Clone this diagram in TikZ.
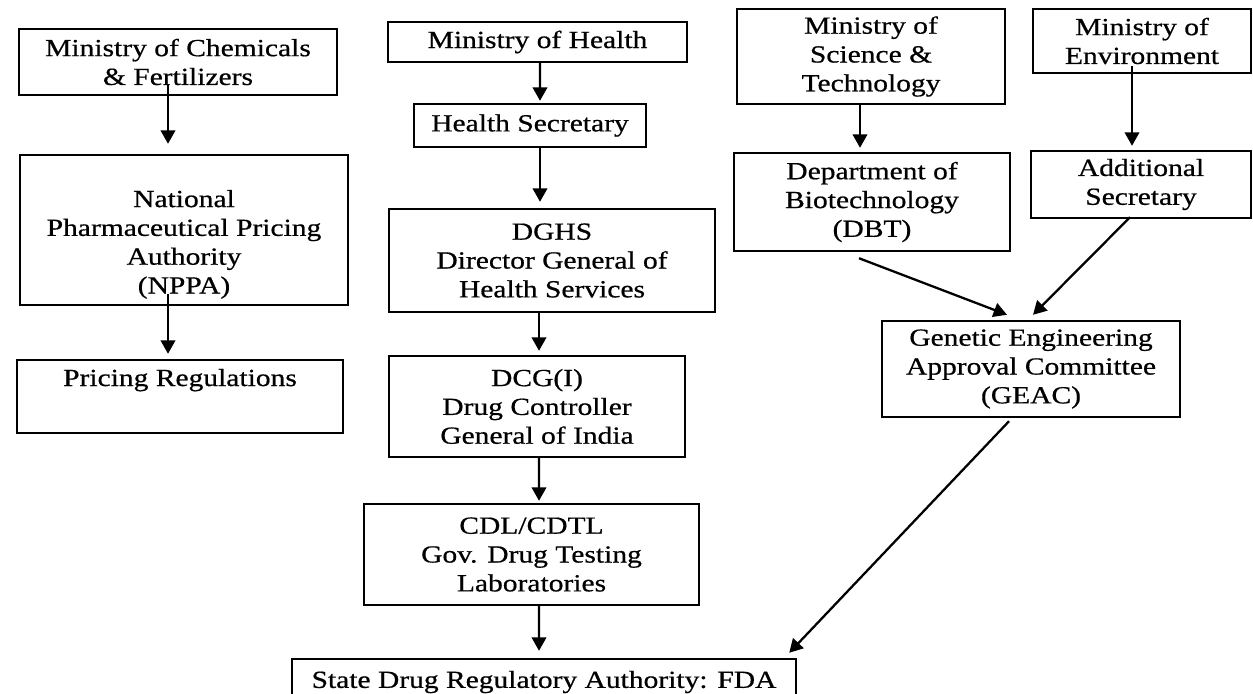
\documentclass[tikz,border=0pt]{standalone}
\usepackage{fontspec}
\setmainfont{Liberation Serif}[FakeStretch=1.2,FakeBold=0.6]
\usetikzlibrary{arrows.meta}
\newlength\pxu
\setlength\pxu{0.02cm}
\begin{document}
\begin{tikzpicture}[x=0.02cm,y=-0.02cm,
  box/.style={draw, line width=1.4pt, inner sep=0pt, align=center,
    font=\fontsize{14}{16.4}\selectfont},
  arr/.style={line width=1.3pt, -{Triangle[length=7.6pt,width=8.2pt]}}]
\clip (0,0) rectangle (1253,693);
\fill[white] (0,0) rectangle (1253,693);

% left column
\node[box, minimum width=318\pxu, minimum height=66\pxu] (chem) at (178,62)
  {Ministry of Chemicals\\\& Fertilizers};
\node[box, minimum width=328\pxu, minimum height=150\pxu] (nppa) at (184,230)
  {\parbox[c][150\pxu][t]{320\pxu}{\centering\vspace*{35\pxu}National\\Pharmaceutical Pricing\\Authority\\(NPPA)}};
\node[box, minimum width=326\pxu, text height=26\pxu, text depth=47\pxu] (price) at (180,396.5)
  {Pricing Regulations};

% middle column
\node[box, minimum width=299\pxu, minimum height=40\pxu] (mh) at (537.5,42) {Ministry of Health};
\node[box, minimum width=232\pxu, minimum height=43\pxu] (hs) at (530,125.5) {Health Secretary};
\node[box, minimum width=326\pxu, minimum height=103\pxu] (dghs) at (552,260.5)
  {DGHS\\Director General of\\Health Services};
\node[box, minimum width=296\pxu, minimum height=101\pxu] (dcg) at (537,406.5)
  {DCG(I)\\Drug Controller\\General of India};
\node[box, minimum width=335\pxu, minimum height=101\pxu] (cdl) at (531.5,554.5)
  {CDL/CDTL\\Gov. Drug Testing\\Laboratories};
\node[box, minimum width=504\pxu, minimum height=46\pxu] (fda) at (544,682)
  {State Drug Regulatory Authority: FDA};

% right columns
\node[box, minimum width=268\pxu, minimum height=95\pxu] (msci) at (871,56.5)
  {Ministry of\\Science \&\\Technology};
\node[box, minimum width=218\pxu, minimum height=64\pxu] (menv) at (1142,41)
  {Ministry of\\Environment};
\node[box, minimum width=276\pxu, minimum height=98\pxu] (dbt) at (872,202)
  {Department of\\Biotechnology\\(DBT)};
\node[box, minimum width=220\pxu, minimum height=67\pxu] (adds) at (1141,184.5)
  {Additional\\Secretary};
\node[box, minimum width=298\pxu, minimum height=96\pxu] (geac) at (1031,369)
  {Genetic Engineering\\Approval Committee\\(GEAC)};

% connectors
\draw[arr] ([xshift=-10\pxu,yshift=12\pxu]chem.south) -- ([xshift=-16\pxu,yshift=10\pxu]nppa.north);
\draw[arr] ([xshift=-16\pxu,yshift=12\pxu]nppa.south) -- ([xshift=-12\pxu,yshift=5\pxu]price.north);
\draw[arr] ([xshift=2.5\pxu]mh.south) -- ([xshift=10\pxu,yshift=2\pxu]hs.north);
\draw[arr] ([xshift=10\pxu]hs.south) -- ([xshift=-12\pxu,yshift=6\pxu]dghs.north);
\draw[arr] ([xshift=-13\pxu]dghs.south) -- ([xshift=2\pxu,yshift=4\pxu]dcg.north);
\draw[arr] ([xshift=2\pxu]dcg.south) -- ([xshift=7.5\pxu,yshift=2\pxu]cdl.north);
\draw[arr] ([xshift=7.5\pxu]cdl.south) -- ([xshift=-5\pxu,yshift=7\pxu]fda.north);
\draw[arr] ([xshift=-11\pxu]msci.south) -- ([xshift=-12\pxu,yshift=4\pxu]dbt.north);
\draw[arr] ([xshift=-10\pxu,yshift=8\pxu]menv.south) -- ([xshift=-9\pxu,yshift=4\pxu]adds.north);
\draw[arr] ([xshift=-13\pxu,yshift=-6\pxu]dbt.south) -- ([xshift=-24\pxu,yshift=5\pxu]geac.north);
\draw[arr] ([xshift=-11\pxu,yshift=2\pxu]adds.south) -- ([xshift=2\pxu,yshift=5\pxu]geac.north);
\draw[arr] ([xshift=-22\pxu,yshift=-3\pxu]geac.south) -- ([xshift=-8\pxu,yshift=5\pxu]fda.north east);
\end{tikzpicture}
\end{document}
